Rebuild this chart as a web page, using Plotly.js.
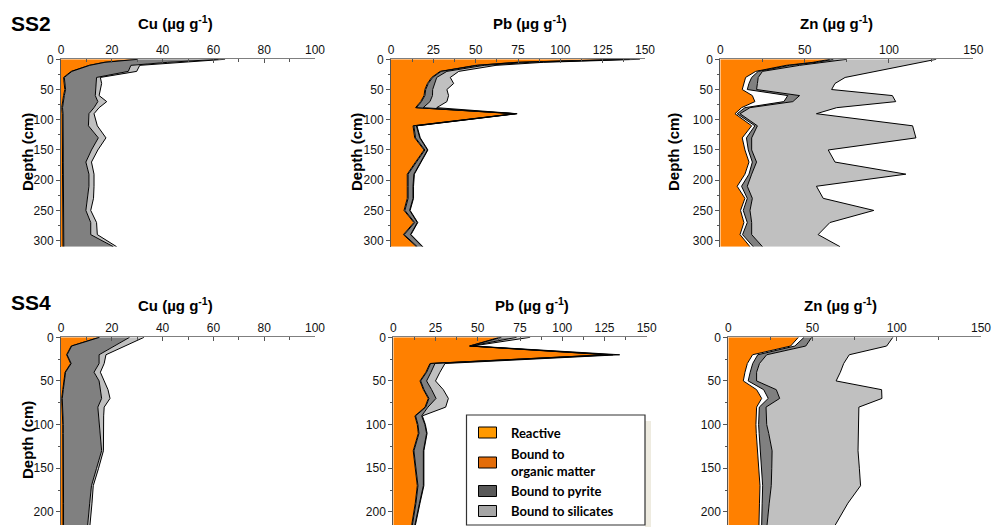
<!DOCTYPE html>
<html><head><meta charset="utf-8">
<script src="https://cdn.plot.ly/plotly-3.0.1.min.js"></script>
<style>html,body{margin:0;padding:0;background:#fff}</style>
</head><body><div id="chart" style="width:994px;height:527px"></div>
<script>
// Depth sampling (cm)
const depthSS2 = [0,5,10,20,30,40,50,60,70,80,90,110,130,150,170,190,210,230,250,270,290,310];
const depthSS4 = [0,10,20,30,40,50,60,70,80,90,100,110,130,150,170,190,215];

// Cumulative fraction boundaries (µg g-1): reactive, +organic matter, +pyrite, +silicates
// SS2 Cu
const ss2CuReactive  = [30,17,11,4,1,1.2,1.5,1,0.5,0.3,0.5,0.6,0.6,0.6,0.6,0.6,0.6,0.6,0.6,0.6,0.6,0.8];
const ss2CuOrganic   = [30.3,17.3,11.3,4.3,1.3,1.5,1.8,1.3,0.8,0.6,0.8,0.9,0.9,0.9,0.9,0.9,0.9,0.9,0.9,0.9,0.9,1.1];
const ss2CuPyrite    = [62,42,27.5,26.5,14,13.8,13.8,13.5,14.5,13,11,10.8,14.7,12,9.8,11,11,10.5,9.8,11.7,11.7,20.6];
const ss2CuSilicates = [64.6,48,31,29.8,15.5,16,15.6,15,18,15,13,14.3,17.7,14.5,12,13,13,12.8,11.7,14,14.3,21.9];
// SS2 Pb
const ss2PbReactive  = [135,74,50,29,24,21.5,20,19.5,17.5,14.5,73,13,14,19.5,14.5,9.6,9.6,9.6,7.7,13.5,7.3,15];
const ss2PbOrganic   = [137,75,51,29.6,24.6,22,20.5,20,18,15,73.4,13.5,14.5,20,15,10.1,10.1,10.1,8.2,14,7.8,15.5];
const ss2PbPyrite    = [141,82,55,33,27,26,24.6,24.5,23,19,74,15,17,21.5,17.5,13.5,13,13,11,15.5,11.5,18.5];
const ss2PbSilicates = [147,90,62,40,35,37,33,34,33,27,74.5,15.3,17.3,21.8,17.8,13.8,13.3,13.3,11.3,15.8,11.8,18.8];
// SS2 Zn
const ss2ZnReactive  = [65,55,39,21,15,14,13,19,20.5,12.6,8.7,18.6,13,14.6,17,14.6,10,14.6,12,14,11.7,17.6];
const ss2ZnOrganic   = [67,57,41,22.5,18.6,17,16,40,37.7,14.6,10,20.5,15.5,16.6,19,17,12.6,16,13.6,16,13.2,19.5];
const ss2ZnPyrite    = [75,62,47,25,22.5,22,21.5,47,43,17.6,11.7,22,18.6,18.6,21.5,18.6,16,19,17.6,18.6,18.6,25];
const ss2ZnSilicates = [128,119,110,92,74,68,66,102,104,69,57,114,116,64,68,110,57,61,91,65,58,71];
// SS4 Cu
const ss4CuReactive  = [15,4,2.2,3.8,1.6,1,0.7,0.3,0.5,0.6,0.7,0.7,0.8,0.8,0.7,0.8,0.8];
const ss4CuOrganic   = [15.2,4.2,2.4,4,1.8,1.2,0.9,0.5,0.7,0.8,0.9,0.9,1,1,0.9,1,1];
const ss4CuPyrite    = [27,21,15,15,13,15,15.5,16,14.5,14.8,15.2,15.5,16,14,12,11.3,10.5];
const ss4CuSilicates = [32.7,25,17.7,17,15.5,17,18.5,19.3,17,16.8,16.8,16.7,16.7,14.8,12.7,12.2,11.4];
// SS4 Pb
const ss4PbReactive  = [63,45,126,21.7,19.3,15.8,17.8,20.7,18.8,12.8,14.2,14.8,11.8,12.8,14.2,13,10.9];
const ss4PbOrganic   = [64,45.4,127,22.1,19.7,16.2,18.2,21.1,19.2,13.2,14.6,15.2,12.2,13.2,14.6,13.4,11.3];
const ss4PbPyrite    = [73,45.8,130,24.7,22.3,19.7,22.7,25.3,20.5,16.8,18.7,19.7,17.8,17.8,17.8,15.5,12.8];
const ss4PbSilicates = [81,47,134,30.6,27.6,25,29.6,32.6,31,17.2,19,20,18.1,18.1,18.1,15.8,13.1];
// SS4 Zn
const ss4ZnReactive  = [41.6,37,14.4,11.3,9.9,8.9,16.8,19.8,16.8,16.5,16.4,16.6,17.2,17.8,18.8,18.5,18.2];
const ss4ZnOrganic   = [45,39.5,17.5,14.5,13,11.8,21,23.7,18.4,18,18,18.3,19,19.6,20.4,20.1,19.8];
const ss4ZnPyrite    = [49.5,46,22.8,18.5,16.8,16.8,28.5,30.5,22.4,22.6,22.8,24,26,25.8,25.5,24.3,23];
const ss4ZnSilicates = [97.7,94,71.8,68.5,66.5,64,91,91.2,77.5,77.4,77.3,77.2,77,77.8,78.5,71,63.5];

const fillColors = ['#FF8000','#FFFFFF','#808080','#C0C0C0'];
const legendLabels = ['Reactive','Bound to<br>organic matter','Bound to pyrite','Bound to silicates'];
const legendColors = ['#FF9900','#E36C09','#595959','#A6A6A6'];

const W = 994, H = 527;
const px = v => v / W;
const py = v => 1 - v / H;

const traces = [];
function addProfile(n, depth, layers) {
  layers.forEach((vals, i) => {
    traces.push({
      type: 'scatter', mode: 'lines', x: vals, y: depth,
      xaxis: 'x' + (n === 1 ? '' : n), yaxis: 'y' + (n === 1 ? '' : n),
      fill: i === 0 ? 'tozerox' : 'tonextx', fillcolor: fillColors[i],
      line: {color: '#000', width: 1}, showlegend: false, hoverinfo: 'skip'
    });
  });
}
addProfile(1, depthSS2, [ss2CuReactive, ss2CuOrganic, ss2CuPyrite, ss2CuSilicates]);
addProfile(2, depthSS2, [ss2PbReactive, ss2PbOrganic, ss2PbPyrite, ss2PbSilicates]);
addProfile(3, depthSS2, [ss2ZnReactive, ss2ZnOrganic, ss2ZnPyrite, ss2ZnSilicates]);
addProfile(4, depthSS4, [ss4CuReactive, ss4CuOrganic, ss4CuPyrite, ss4CuSilicates]);
addProfile(5, depthSS4, [ss4PbReactive, ss4PbOrganic, ss4PbPyrite, ss4PbSilicates]);
addProfile(6, depthSS4, [ss4ZnReactive, ss4ZnOrganic, ss4ZnPyrite, ss4ZnSilicates]);

const sans = '"Liberation Sans", Arial, sans-serif';
const tickFont = {family: sans, size: 12, color: '#111'};
function xAxis(n, x0, x1, max, dtick) {
  return {
    domain: [px(x0), px(x1)], range: [0, max], side: 'top',
    anchor: 'y' + (n === 1 ? '' : n), dtick: dtick, tick0: 0,
    showline: true, linecolor: '#7f7f7f', linewidth: 1,
    ticks: 'inside', ticklen: 4, tickcolor: '#555',
    minor: {dtick: dtick / 2, ticks: 'inside', ticklen: 3, tickcolor: '#555'},
    showgrid: false, zeroline: false, tickfont: tickFont, fixedrange: true
  };
}
function yAxis(n, y0, y1, maxDepth) {
  return {
    domain: [py(y1), py(y0)], range: [maxDepth, 0],
    anchor: 'x' + (n === 1 ? '' : n), dtick: 50, tick0: 0,
    showline: true, linecolor: '#555', linewidth: 1,
    ticks: 'outside', ticklen: 4, tickcolor: '#555',
    minor: {dtick: 25, ticks: 'outside', ticklen: 2, tickcolor: '#555'},
    showgrid: false, zeroline: false, tickfont: tickFont, fixedrange: true
  };
}

const layout = {
  width: W, height: H, margin: {l: 0, r: 0, t: 0, b: 0},
  paper_bgcolor: '#fff', plot_bgcolor: 'rgba(0,0,0,0)', showlegend: false,
  font: {family: sans},
  xaxis: xAxis(1, 61, 315, 100, 20),
  xaxis2: xAxis(2, 391, 645, 150, 25),
  xaxis3: xAxis(3, 720.3, 973.3, 150, 50),
  xaxis4: xAxis(4, 61, 315, 100, 20),
  xaxis5: xAxis(5, 393.3, 646.7, 150, 25),
  xaxis6: xAxis(6, 728.3, 981, 150, 50),
  yaxis: yAxis(1, 59.3, 246.7, 310),
  yaxis2: yAxis(2, 59.3, 246.7, 310),
  yaxis3: yAxis(3, 59.3, 246.7, 310),
  yaxis4: yAxis(4, 337.3, 525, 215),
  yaxis5: yAxis(5, 337.3, 525, 215),
  yaxis6: yAxis(6, 337.3, 525, 215),
  shapes: [], annotations: []
};

const boldFont = {family: sans, size: 15, color: '#000'};
function ann(text, x, y, opts) {
  layout.annotations.push(Object.assign({
    text: text, x: px(x), y: py(y), xref: 'paper', yref: 'paper',
    showarrow: false, xanchor: 'center', yanchor: 'middle', font: boldFont
  }, opts || {}));
}
const unit = ' (µg g<sup>-1</sup>)';
ann('<b>Cu' + unit + '</b>', 175, 22);
ann('<b>Pb' + unit + '</b>', 530, 22);
ann('<b>Zn' + unit + '</b>', 836, 22);
ann('<b>Cu' + unit + '</b>', 175, 304);
ann('<b>Pb' + unit + '</b>', 532, 304);
ann('<b>Zn' + unit + '</b>', 840, 304);
ann('<b>Depth (cm)</b>', 27, 152, {textangle: -90});
ann('<b>Depth (cm)</b>', 356, 152, {textangle: -90});
ann('<b>Depth (cm)</b>', 673, 152, {textangle: -90});
ann('<b>Depth (cm)</b>', 27, 440, {textangle: -90});
const bigFont = {family: sans, size: 21, color: '#000'};
ann('<b>SS2</b>', 9, 23, {xanchor: 'left', font: bigFont});
ann('<b>SS4</b>', 9, 302, {xanchor: 'left', font: bigFont});

// Legend box
layout.shapes.push({type: 'rect', xref: 'paper', yref: 'paper', x0: px(645), x1: px(651), y0: py(527), y1: py(421), fillcolor: '#EEEBE0', line: {width: 0}});
layout.shapes.push({type: 'rect', xref: 'paper', yref: 'paper', x0: px(466.5), x1: px(645), y0: py(525), y1: py(415), fillcolor: '#fff', line: {color: '#333', width: 1.2}});
const swY = [432.5, 462.5, 491, 511];
const legFont = {family: 'Lato, "Open Sans", sans-serif', size: 13, color: '#000'};
legendLabels.forEach((lab, i) => {
  layout.shapes.push({type: 'rect', xref: 'paper', yref: 'paper', x0: px(478.5), x1: px(496.5), y0: py(swY[i] + 5.5), y1: py(swY[i] - 5.5), fillcolor: legendColors[i], line: {color: '#000', width: 1}});
  ann('<b>' + lab + '</b>', 509, swY[i], {xanchor: 'left', align: 'left', font: legFont});
});

Plotly.newPlot('chart', traces, layout, {staticPlot: true, displayModeBar: false});
</script></body></html>
